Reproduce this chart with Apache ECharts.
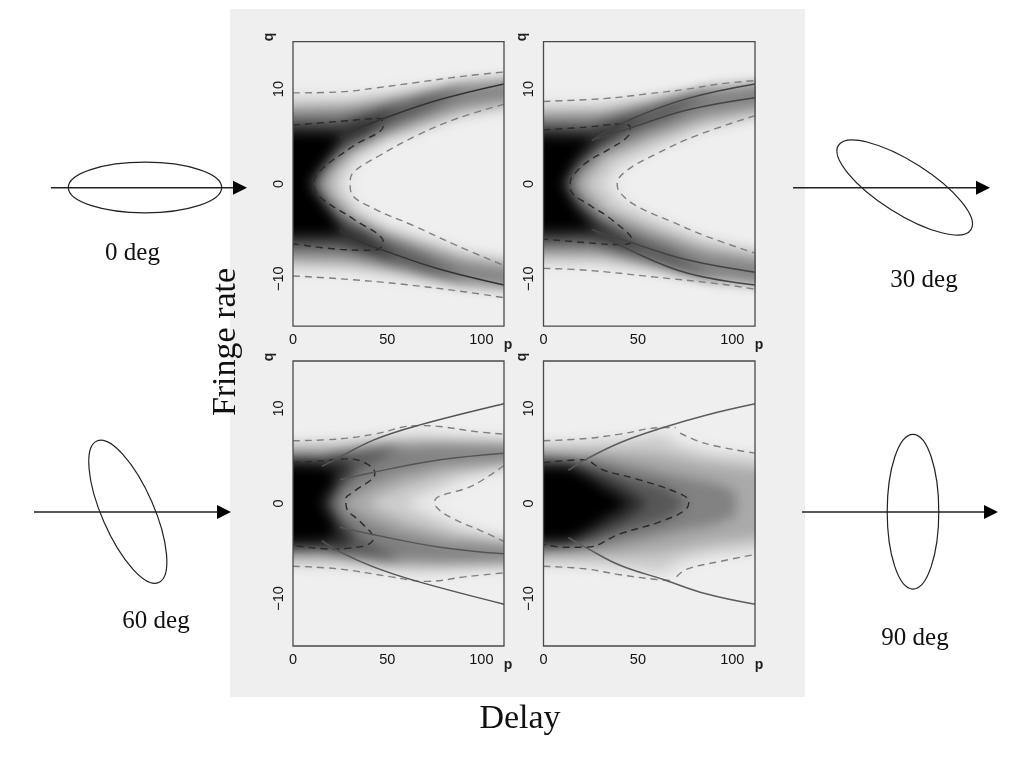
<!DOCTYPE html>
<html><head><meta charset="utf-8">
<style>html,body{margin:0;padding:0;background:#fff}#c{width:1024px;height:768px}</style>
<script src="https://cdn.jsdelivr.net/npm/echarts@6/dist/echarts.min.js"></script>
</head><body><div id="c"></div>
<script>
// ---- tick labels and captions
const xTicks = [0, 50, 100];
const yTicks = [-10, 0, 10];
const angleLabels = ['0 deg', '30 deg', '60 deg', '90 deg'];
const xTitle = 'Delay';
const yTitle = 'Fringe rate';
const xAxisName = 'p';
const yAxisName = 'q';

// ---- grey value of each density contour, lightest first
const contourGrey = [232, 205, 170, 130, 88, 45, 0];

// ---- density contours: upper half [delay, fringe rate]; lower half mirrors it
const density0 = [
  [[0,10],[30,10],[60,10.6],[90,11.3],[112,11.8],[112,8],[90,6.6],[70,5.3],[50,3.9],[38,2.3],[33,1],[32,0]],
  [[0,8.9],[30,8.9],[60,9.8],[90,10.9],[112,11.5],[112,8.6],[90,7.2],[70,5.9],[50,4.6],[35,2.9],[28,1.2],[26,0]],
  [[0,8],[30,8.3],[60,9.3],[90,10.5],[112,11.2],[112,9.2],[90,7.8],[70,6.5],[50,5.2],[32,3.3],[22,1.2],[20,0]],
  [[0,7.3],[30,7.7],[60,8.8],[90,10.1],[112,10.9],[112,9.7],[90,8.4],[70,7.1],[45,5.3],[30,3.7],[18,1.2],[15,0]],
  [[0,6.7],[25,6.7],[45,7.6],[70,9.1],[92,10.2],[70,7.8],[50,6.2],[35,4.8],[22,3.2],[13,1],[12,0]],
  [[0,6],[24,5.9],[35,6.6],[56,8],[38,5.4],[25,4.3],[15,2.5],[10,0.8],[9,0]],
  [[0,5.4],[26,5.2],[19,3.1],[10,0.7],[8,0]]
];
const density30 = [
  [[0,9.1],[30,9.1],[60,9.7],[90,10.6],[112,11.2],[112,7.3],[85,5.3],[60,3.2],[45,1.5],[41,0]],
  [[0,8.2],[30,8.3],[60,9.2],[90,10.3],[112,11.1],[112,7.8],[85,5.9],[60,3.9],[40,2.1],[32,0]],
  [[0,7.5],[30,7.6],[60,8.7],[90,10],[112,10.8],[112,8.4],[85,6.7],[60,4.9],[35,2.8],[24,0.5],[23,0]],
  [[0,6.8],[30,7],[60,8.3],[90,9.7],[112,10.6],[112,9],[85,7.4],[55,5.3],[30,3.2],[18,0.6],[17,0]],
  [[0,6.3],[25,6.2],[45,7.1],[70,8.8],[92,10],[65,6.9],[45,5.5],[28,3.8],[17,1.5],[13,0]],
  [[0,5.7],[24,5.4],[35,6],[54,7.2],[30,4.3],[15,2.1],[11,0.5],[10,0]],
  [[0,5],[27,4.8],[18,2.9],[11,0.6],[10,0]]
];
const density60 = [
  [[0,7],[25,7.1],[45,7.5],[65,8],[80,7.8],[112,7],[112,4.1],[95,2.1],[78,0.4],[76,0]],
  [[0,6.2],[25,6.5],[45,6.9],[65,7.2],[85,7],[112,6.5],[112,4.6],[90,2.8],[72,1.2],[60,0]],
  [[0,5.6],[25,5.8],[50,6.3],[80,6.4],[112,6.1],[112,4.8],[85,3.4],[60,1.9],[45,0.6],[40,0]],
  [[0,5.2],[20,5.1],[45,5.8],[75,6],[112,5.8],[112,5],[80,4.2],[55,3],[40,1.8],[28,0.4],[27,0]],
  [[0,4.8],[15,4.6],[30,5.2],[58,5.9],[35,3.5],[28,2.2],[22,0.6],[21,0]],
  [[0,4.4],[15,4.3],[27,4.7],[32,3.5],[23,2],[19,0.5],[18,0]],
  [[0,4],[14,3.9],[23,3.4],[20,1.6],[16,0.5],[15,0]]
];
const density90 = [
  [[0,6.8],[25,7],[45,7.5],[63,8],[70,7.5],[85,6.2],[112,5.4],[112,0]],
  [[0,6.2],[25,6.4],[45,6.7],[62,7.2],[75,5.8],[90,5.2],[112,4.4],[112,0]],
  [[0,5.7],[20,5.5],[40,5.5],[60,5.3],[85,4.3],[112,3],[112,0]],
  [[0,5.2],[15,4.8],[30,4.7],[50,3.9],[70,3],[90,2.2],[102,1.3],[102,0]],
  [[0,4.7],[15,4.4],[25,4],[45,2.8],[65,1.7],[76,0]],
  [[0,4.3],[13,3.9],[25,3.3],[40,2],[50,0.8],[55,0]],
  [[0,3.8],[14,3.7],[24,2.6],[34,1.3],[42,0.4],[45,0]]
];

// ---- curves
const solid0 = [
  [[25,4.9],[32,5.6],[48,6.9],[78,8.9],[112,10.55]],
  [[25,-4.9],[32,-5.8],[48,-7],[78,-9],[112,-10.65]]
];
const darkDash0 = [[[0,6.2],[25,6.6],[46,6.9],[48,6.2],[32,4],[14.5,1.4],[11,0],[14.5,-1.4],[32,-3.7],[48,-6.2],[43,-7],[25,-6.9],[0,-6.3]]];
const greyDash0 = [
  [[0,9.6],[25,9.7],[43,10.1],[65.6,10.7],[92,11.4],[112,11.8]],
  [[0,-9.7],[25,-10],[57,-10.55],[92,-11.4],[112,-12]],
  [[112,8.4],[87,6.9],[65.6,5.1],[46,3],[32,1.2],[30.3,0],[31,-1],[43,-2.6],[64,-4.4],[87,-6.5],[112,-8.6]]
];
const solid30 = [
  [[25.6,4.6],[46,6.8],[76,9],[112,10.55]],
  [[25.6,4.6],[46,5.9],[76,7.8],[112,9.1]],
  [[25.6,-4.8],[46,-6.15],[76,-8],[112,-9.3]],
  [[25.6,-4.8],[46,-7],[76,-9.4],[112,-10.65]]
];
const darkDash30 = [[[0,5.7],[23,6],[40.5,6.3],[46,6],[45,5.1],[35,3.7],[23,2.3],[15,0.7],[14,0],[15,-0.9],[25,-2.3],[37,-3.9],[47,-6],[40.5,-6.4],[23,-6.2],[0,-5.8]]];
const greyDash30 = [
  [[0,8.7],[32,9],[55,9.5],[76,10],[93.5,10.55],[112,10.9]],
  [[0,-8.9],[23,-9.1],[58,-9.8],[93.5,-10.55],[112,-11.1]],
  [[112,7.2],[81,5.1],[60,3.2],[44,1.4],[39,0],[40.5,-0.9],[49,-2.3],[67,-3.9],[86,-5.5],[112,-7.3]]
];
const solid60 = [
  [[15.3,3.9],[23,4.7],[43,6.7],[66,8.2],[112,10.5]],
  [[15.3,-3.9],[25,-5.1],[43,-6.7],[66,-8.2],[112,-10.6]],
  [[25,2.5],[43,3.3],[78,4.6],[112,5.3]],
  [[25,-2.5],[43,-3.3],[78,-4.6],[112,-5.3]]
];
const darkDash60 = [[[0,4.3],[16,4.5],[28.5,4.7],[39,4.2],[43.5,3.2],[32,1.2],[28,0.5],[28.5,-0.5],[35.6,-1.9],[42.7,-3.7],[40,-4.3],[30,-4.7],[21.5,-4.8],[0,-4.4]]];
const greyDash60 = [
  [[0,6.6],[25,6.8],[43,7.3],[66,8.2],[78,8.1],[95.6,7.6],[112,7.3]],
  [[0,-6.6],[25,-6.9],[51.5,-7.7],[71,-8.2],[92,-7.7],[112,-7.3]],
  [[112,4],[95.6,1.9],[75.3,0.25],[76,-0.35],[85,-1.6],[99,-2.8],[112,-4]]
];
const solid90 = [
  [[13.2,3.5],[23,4.7],[40.5,6.4],[63.5,8],[86,9.3],[112,10.5]],
  [[13.2,-3.6],[23,-4.7],[40.5,-6.5],[63.5,-8],[86,-9.5],[112,-10.6]]
];
const darkDash90 = [[[0,4.3],[21,4.6],[32,3.5],[49,2.6],[72,1.05],[77,0.2],[75,-0.7],[62,-1.9],[40.5,-3.2],[23,-4.6],[10.6,-4.6],[0,-4.3]]];
const greyDash90 = [
  [[0,6.6],[23,6.85],[40.5,7.3],[63.5,8],[70,8]],
  [[72.3,7.4],[86,6.3],[112,5.3]],
  [[0,-6.6],[23,-6.9],[40.5,-7.5],[60,-8],[67,-8.1]],
  [[70.5,-7.7],[76,-6.9],[93.5,-6.1],[111,-5.4]]
];

const panels = [
  {density: density0,  solid: solid0,  dark: darkDash0,  grey: greyDash0,  solidColor: '#333'},
  {density: density30, solid: solid30, dark: darkDash30, grey: greyDash30, solidColor: '#444'},
  {density: density60, solid: solid60, dark: darkDash60, grey: greyDash60, solidColor: '#555'},
  {density: density90, solid: solid90, dark: darkDash90, grey: greyDash90, solidColor: '#5c5c5c'}
];
const boxes = [
  {left: 293, top: 41.7, width: 211, height: 284.5},
  {left: 543.5, top: 41.7, width: 211.5, height: 284.5},
  {left: 293, top: 361, width: 211, height: 285},
  {left: 543.5, top: 361, width: 211.5, height: 285}
];

const OFF = 3000, BLUR = 12, BLEED = 40, PMAX = 112;

function bandSeries(i, upper, grey) {
  const lower = upper.slice().reverse().filter(d => d[1] !== 0).map(d => [d[0], -d[1]]);
  const ring = upper.concat(lower);
  const col = 'rgb(' + grey + ',' + grey + ',' + grey + ')';
  return {
    type: 'custom', xAxisIndex: i, yAxisIndex: i, coordinateSystem: 'cartesian2d',
    data: ring, clip: true, silent: true, z: 2, animation: false,
    encode: {x: 0, y: 1},
    renderItem: (params, api) => {
      if (params.dataIndex !== 0) return null;
      const pts = ring.map(d => {
        const c = api.coord(d);
        if (d[0] === 0) c[0] -= BLEED;
        if (d[0] === PMAX) c[0] += BLEED;
        return [c[0] - OFF, c[1]];
      });
      return {type: 'polygon', shape: {points: pts},
        style: {fill: col, shadowColor: col, shadowBlur: BLUR, shadowOffsetX: OFF}};
    }
  };
}
function lineSeries(i, pts, color, dash, width) {
  return {type: 'line', xAxisIndex: i, yAxisIndex: i, data: pts, showSymbol: false, smooth: 0.4,
    silent: true, animation: false, z: 5, clip: true,
    lineStyle: {color: color, width: width, type: dash}};
}

const series = [];
panels.forEach((p, i) => {
  p.density.forEach((c, k) => series.push(bandSeries(i, c, contourGrey[k])));
  p.grey.forEach(l => series.push(lineSeries(i, l, '#808080', [7, 5], 1.4)));
  p.dark.forEach(l => series.push(lineSeries(i, l, '#2a2a2a', [7, 5], 1.4)));
  p.solid.forEach(l => series.push(lineSeries(i, l, p.solidColor, 'solid', 1.5)));
});

const labelFont = {fontFamily: '"Liberation Sans", Arial, sans-serif', fontSize: 14.5, color: '#111'};
const serif = '"Liberation Serif", "Times New Roman", serif';
const txt = (x, y, s, size, rot) => ({type: 'text', x: x, y: y, rotation: rot || 0, z: 20,
  style: {text: s, font: size + 'px ' + serif, fill: '#111', align: 'center', verticalAlign: 'middle'}});
const axName = (x, y, s, rot) => ({type: 'text', x: x, y: y, rotation: rot || 0, z: 20,
  style: {text: s, font: 'bold 14px "Liberation Sans", sans-serif', fill: '#222', align: 'center', verticalAlign: 'middle'}});
const wire = (cx, cy, a, b, rot) => ({type: 'ellipse', x: cx, y: cy, rotation: rot, z: 15,
  shape: {cx: 0, cy: 0, rx: a, ry: b}, style: {fill: 'none', stroke: '#222', lineWidth: 1.2}});
const arrow = (x1, x2, y) => [
  {type: 'line', z: 15, shape: {x1: x1, y1: y, x2: x2 - 12, y2: y}, style: {stroke: '#222', lineWidth: 1.5}},
  {type: 'polygon', z: 15, shape: {points: [[x2 - 14, y - 7], [x2, y], [x2 - 14, y + 7]]}, style: {fill: '#000'}}
];

const graphicEls = [
  {type: 'rect', z: -10, shape: {x: 230, y: 9, width: 575, height: 688}, style: {fill: '#efefef'}},
  wire(145, 187.5, 76.7, 25.3, 0),
  wire(904.7, 187.5, 78.5, 26, -32.4 * Math.PI / 180),
  wire(127.8, 511.7, 77.2, 26, -66.4 * Math.PI / 180),
  wire(913, 511.7, 77.4, 25.8, Math.PI / 2),
  ...arrow(51, 247, 187.7), ...arrow(793, 990, 187.7), ...arrow(34, 231, 512), ...arrow(802, 998, 512),
  txt(132.5, 253, angleLabels[0], 25), txt(924, 280, angleLabels[1], 25),
  txt(156, 621, angleLabels[2], 25), txt(915, 638, angleLabels[3], 25),
  txt(226, 342, yTitle, 34, Math.PI / 2), txt(520, 719, xTitle, 34),
  axName(508, 345, xAxisName), axName(759, 345, xAxisName), axName(508, 665, xAxisName), axName(759, 665, xAxisName),
  axName(269, 37, yAxisName, Math.PI / 2), axName(522, 37, yAxisName, Math.PI / 2),
  axName(269, 357, yAxisName, Math.PI / 2), axName(522, 357, yAxisName, Math.PI / 2)
];

const chart = echarts.init(document.getElementById('c'), null, {renderer: 'canvas'});
chart.setOption({
  backgroundColor: '#fff',
  animation: false,
  grid: boxes.map(b => ({...b, show: true, z: 10, backgroundColor: 'transparent', borderColor: '#4a4a4a', borderWidth: 1.3, containLabel: false})),
  xAxis: boxes.map((b, i) => ({gridIndex: i, type: 'value', min: 0, max: PMAX,
    axisLine: {show: false}, axisTick: {show: false}, splitLine: {show: false}, minorTick: {show: false},
    axisLabel: {...labelFont, customValues: xTicks, margin: 6, hideOverlap: false, showMinLabel: true, showMaxLabel: true}})),
  yAxis: boxes.map((b, i) => ({gridIndex: i, type: 'value', min: -15, max: 15,
    axisLine: {show: false}, axisTick: {show: false}, splitLine: {show: false},
    axisLabel: {...labelFont, customValues: yTicks, rotate: 90, margin: 7, hideOverlap: false,
      formatter: v => String(v).replace('-', '\u2212')}})),
  series: series,
  graphic: {elements: graphicEls}
});
</script></body></html>
